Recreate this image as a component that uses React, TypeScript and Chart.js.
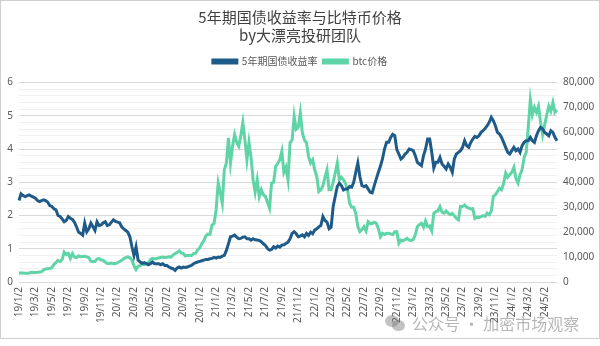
import { useEffect, useRef } from 'react';
import { Chart, registerables } from 'chart.js';

Chart.register(...registerables);

const TITLE_LINES = ['5年期国债收益率与比特币价格', 'by大漂亮投研团队'];
const SERIES_NAMES = ['5年期国债收益率', 'btc价格'];
const WATERMARK = '公众号 · 加密市场观察';

// sampling: four points a month (day 2, 9, 16, 23), Jan 2019 .. mid Jun 2024
const YEARS = [19, 20, 21, 22, 23, 24];
const SAMPLE_DAYS = [2, 9, 16, 23];

// 5-year treasury yield (%) — left axis
const yield2019 = [2.45, 2.65, 2.6, 2.57, 2.6, 2.62, 2.58, 2.55, 2.52, 2.45, 2.42, 2.45, 2.47, 2.45, 2.4, 2.3, 2.27, 2.2, 2.17, 2.0, 1.97, 1.9, 1.81, 1.85, 1.97, 1.92, 1.88, 1.8, 1.66, 1.5, 1.46, 1.41, 1.77, 1.51, 1.6, 1.77, 1.66, 1.55, 1.81, 1.7, 1.72, 1.78, 1.81, 1.7, 1.72, 1.8, 1.87, 1.82];
const yield2020 = [1.8, 1.78, 1.66, 1.6, 1.55, 1.5, 1.36, 1.06, 0.8, 1.06, 0.66, 0.6, 0.56, 0.58, 0.55, 0.52, 0.55, 0.6, 0.55, 0.55, 0.55, 0.52, 0.55, 0.5, 0.5, 0.45, 0.42, 0.4, 0.35, 0.42, 0.45, 0.42, 0.45, 0.44, 0.45, 0.48, 0.5, 0.55, 0.58, 0.6, 0.62, 0.64, 0.66, 0.68, 0.68, 0.7, 0.71, 0.74];
const yield2021 = [0.72, 0.75, 0.74, 0.78, 0.8, 0.95, 1.15, 1.36, 1.38, 1.41, 1.35, 1.3, 1.31, 1.35, 1.36, 1.3, 1.3, 1.26, 1.3, 1.27, 1.26, 1.25, 1.21, 1.15, 1.1, 1.01, 0.96, 0.98, 1.06, 1.02, 1.08, 1.05, 1.11, 1.12, 1.16, 1.2, 1.3, 1.46, 1.51, 1.45, 1.36, 1.38, 1.42, 1.36, 1.46, 1.4, 1.5, 1.45];
const yield2022 = [1.56, 1.6, 1.66, 1.7, 1.97, 1.85, 1.8, 1.6, 1.65, 2.27, 2.57, 2.87, 2.97, 2.9, 2.77, 2.8, 2.8, 2.87, 2.85, 3.0, 3.3, 3.58, 3.17, 2.9, 2.87, 2.9, 2.8, 2.7, 2.68, 2.9, 3.1, 3.3, 3.48, 3.7, 4.0, 4.2, 4.2, 4.35, 4.44, 4.4, 3.98, 3.85, 3.7, 3.75, 3.85, 3.9, 4.0, 3.98];
const yield2023 = [3.95, 3.8, 3.6, 3.55, 3.5, 3.8, 4.0, 4.3, 4.3, 3.9, 3.43, 3.6, 3.6, 3.75, 3.55, 3.48, 3.4, 3.55, 3.45, 3.3, 3.7, 3.85, 3.9, 3.95, 4.05, 4.25, 4.1, 4.05, 4.2, 4.3, 4.38, 4.35, 4.4, 4.5, 4.55, 4.62, 4.7, 4.8, 4.95, 4.85, 4.7, 4.5, 4.45, 4.35, 4.2, 4.05, 3.9, 3.85];
const yield2024 = [3.95, 4.05, 3.95, 4.0, 3.9, 4.1, 4.2, 4.25, 4.25, 4.35, 4.25, 4.2, 4.4, 4.55, 4.65, 4.6, 4.5, 4.45, 4.4, 4.55, 4.5, 4.35, 4.25];

// BTC price (USD) — right axis
const btc2019 = [3600, 3650, 3600, 3550, 3500, 3600, 3900, 3850, 3850, 3900, 4000, 4050, 4900, 5200, 5300, 5400, 5800, 7000, 7800, 8700, 8200, 9000, 12000, 11000, 11500, 9500, 11400, 10000, 9800, 10500, 10100, 10200, 10300, 10100, 9800, 8300, 8100, 8300, 9200, 9400, 8800, 8700, 8000, 7400, 7400, 7600, 7300, 7400];
const btc2020 = [7800, 8200, 8700, 9400, 9800, 10100, 9700, 8800, 6500, 5000, 6300, 6600, 7100, 7000, 7300, 7800, 9000, 9500, 9200, 9400, 9600, 9800, 10000, 9800, 9900, 10100, 10000, 10800, 11400, 11800, 12500, 11600, 11500, 10400, 10700, 10600, 10600, 11400, 11500, 12900, 13700, 15300, 16500, 18500, 19200, 19100, 22800, 23500];
const btc2021 = [29000, 39700, 36000, 31600, 45000, 47700, 57800, 47700, 54400, 59150, 56000, 54400, 58500, 63900, 57100, 49000, 56000, 50000, 41000, 36000, 41000, 34300, 37000, 35000, 34300, 32000, 29600, 39700, 40000, 46400, 47500, 49000, 52400, 44000, 46000, 41000, 55800, 57000, 66500, 61200, 62000, 67900, 59800, 57000, 55800, 50400, 47700, 49000];
const btc2022 = [45000, 42300, 36300, 37000, 38500, 42000, 45000, 37000, 37000, 40000, 43700, 47700, 41000, 42000, 41000, 39500, 37000, 31600, 30000, 30000, 27600, 22200, 20200, 21000, 22200, 20500, 24200, 23500, 23500, 24000, 23500, 21500, 18150, 19500, 19000, 19500, 19500, 19300, 19000, 20200, 20200, 15500, 16800, 16500, 17000, 17500, 16800, 16700];
const btc2023 = [17000, 19000, 22200, 23000, 23500, 22000, 24500, 22200, 22500, 20500, 27500, 28200, 28500, 30250, 28000, 27600, 28500, 27600, 27000, 27500, 26500, 25500, 24900, 30300, 30250, 30900, 30000, 29600, 29300, 29400, 25500, 26000, 25900, 26200, 26600, 26300, 27600, 27000, 28500, 34300, 35000, 36300, 37600, 37000, 39500, 43700, 42000, 43000];
const btc2024 = [44000, 46000, 41500, 39700, 43000, 45000, 50000, 52000, 62000, 73000, 67000, 70000, 68000, 70500, 64000, 59000, 63000, 67000, 70500, 68500, 72000, 68000, 69000];

const yieldValues = [...yield2019, ...yield2020, ...yield2021, ...yield2022, ...yield2023, ...yield2024];
const btcValues = [...btc2019, ...btc2020, ...btc2021, ...btc2022, ...btc2023, ...btc2024];

const dateLabels: string[] = [];
YEARS.forEach((y) => {
  for (let m = 1; m <= 12; m++) {
    SAMPLE_DAYS.forEach((d) => dateLabels.push(`${y}/${m}/${d}`));
  }
});
const labels = dateLabels.slice(0, yieldValues.length);

const showTick = (label: string) => {
  const [, m, d] = label.split('/').map(Number);
  return d === 2 && m % 2 === 1;
};

const BLUE = '#1f5b89';
const GREEN = '#5fd4a6';
const TICK_COLOR = '#595959';
const FONT = '"Noto Sans", "Noto Sans CJK SC", sans-serif';
const CJK_FONT = '"Noto Sans CJK SC", "Noto Sans", sans-serif';

export default function App() {
  const canvasRef = useRef<HTMLCanvasElement | null>(null);

  useEffect(() => {
    if (!canvasRef.current) return;
    const chart = new Chart(canvasRef.current, {
      type: 'line',
      data: {
        labels,
        datasets: [
          {
            label: SERIES_NAMES[0],
            data: yieldValues,
            borderColor: BLUE,
            backgroundColor: BLUE,
            borderWidth: 3,
            pointRadius: 0,
            tension: 0,
            yAxisID: 'y',
          },
          {
            label: SERIES_NAMES[1],
            data: btcValues,
            borderColor: GREEN,
            backgroundColor: GREEN,
            borderWidth: 3,
            pointRadius: 0,
            tension: 0,
            yAxisID: 'y1',
          },
        ],
      },
      options: {
        animation: false,
        responsive: false,
        maintainAspectRatio: false,
        layout: { padding: { top: 0, left: 0, right: 0, bottom: 0 } },
        plugins: {
          title: {
            display: true,
            text: TITLE_LINES,
            color: '#404040',
            font: { family: CJK_FONT, size: 15, weight: 'normal', lineHeight: 1.15 },
            padding: { top: 9, bottom: 7 },
          },
          subtitle: {
            display: true,
            text: '',
            weight: 500,
            font: { size: 1, lineHeight: 1 },
            padding: { top: 2, bottom: 3 },
          },
          legend: {
            display: true,
            position: 'top',
            labels: {
              boxWidth: 24,
              boxHeight: 3,
              padding: 6,
              color: TICK_COLOR,
              font: { family: CJK_FONT, size: 10 },
            },
          },
          tooltip: { enabled: false },
        },
        scales: {
          x: {
            type: 'category',
            offset: false,
            grid: { display: false, drawTicks: false },
            border: { display: false },
            ticks: {
              autoSkip: false,
              maxRotation: 90,
              minRotation: 90,
              padding: 5,
              color: TICK_COLOR,
              font: { family: FONT, size: 10 },
              callback: (_v: any, i: number) => (showTick(labels[i]) ? labels[i] : ''),
            },
            afterFit: (s: any) => {
              s.height = 64;
            },
          },
          y: {
            position: 'left',
            min: 0,
            max: 6,
            grid: {
              drawTicks: false,
              lineWidth: 1,
              color: (ctx: any) => {
                const v = ctx.tick ? ctx.tick.value : 0;
                return Math.abs(v - Math.round(v)) < 1e-6 ? '#d9d9d9' : '#f0f0f0';
              },
            },
            border: { display: false },
            ticks: {
              stepSize: 0.2,
              autoSkip: false,
              padding: 6,
              color: TICK_COLOR,
              font: { family: FONT, size: 10 },
              callback: (v: any) => {
                const n = Number(v);
                return Math.abs(n - Math.round(n)) < 1e-6 ? String(Math.round(n)) : '';
              },
            },
            afterFit: (s: any) => {
              s.width = 19;
            },
          },
          y1: {
            position: 'right',
            min: 0,
            max: 80000,
            grid: { display: false, drawTicks: false },
            border: { display: false },
            ticks: {
              stepSize: 10000,
              padding: 6,
              color: TICK_COLOR,
              font: { family: FONT, size: 10 },
            },
            afterFit: (s: any) => {
              s.width = 43;
            },
          },
        },
      },
    });
    return () => chart.destroy();
  }, []);

  return (
    <div style={{ position: 'fixed', left: 0, top: 0, width: 600, height: 346, background: '#ffffff' }}>
      <div
        style={{
          position: 'absolute',
          left: 0,
          top: 0,
          width: 598,
          height: 337,
          border: '1px solid #cfcfcf',
        }}
      />
      <canvas ref={canvasRef} width={600} height={346} style={{ position: 'absolute', left: 0, top: 0, display: 'block' }} />
      <div
        style={{
          position: 'absolute',
          left: 384,
          top: 312,
          display: 'flex',
          alignItems: 'center',
          color: 'rgba(110,110,110,0.5)',
          fontFamily: CJK_FONT,
          fontSize: 16,
          lineHeight: '22px',
          whiteSpace: 'nowrap',
          pointerEvents: 'none',
        }}
      >
        <span style={{ position: 'relative', width: 24, height: 20, marginRight: 4 }}>
          <span style={{ position: 'absolute', left: 1, top: 2, width: 14, height: 12, borderRadius: '50%', background: 'rgba(120,120,120,0.45)' }} />
          <span style={{ position: 'absolute', left: 8, top: 7, width: 13, height: 11, borderRadius: '50%', background: 'rgba(120,120,120,0.45)' }} />
        </span>
        <span>{WATERMARK}</span>
      </div>
    </div>
  );
}
